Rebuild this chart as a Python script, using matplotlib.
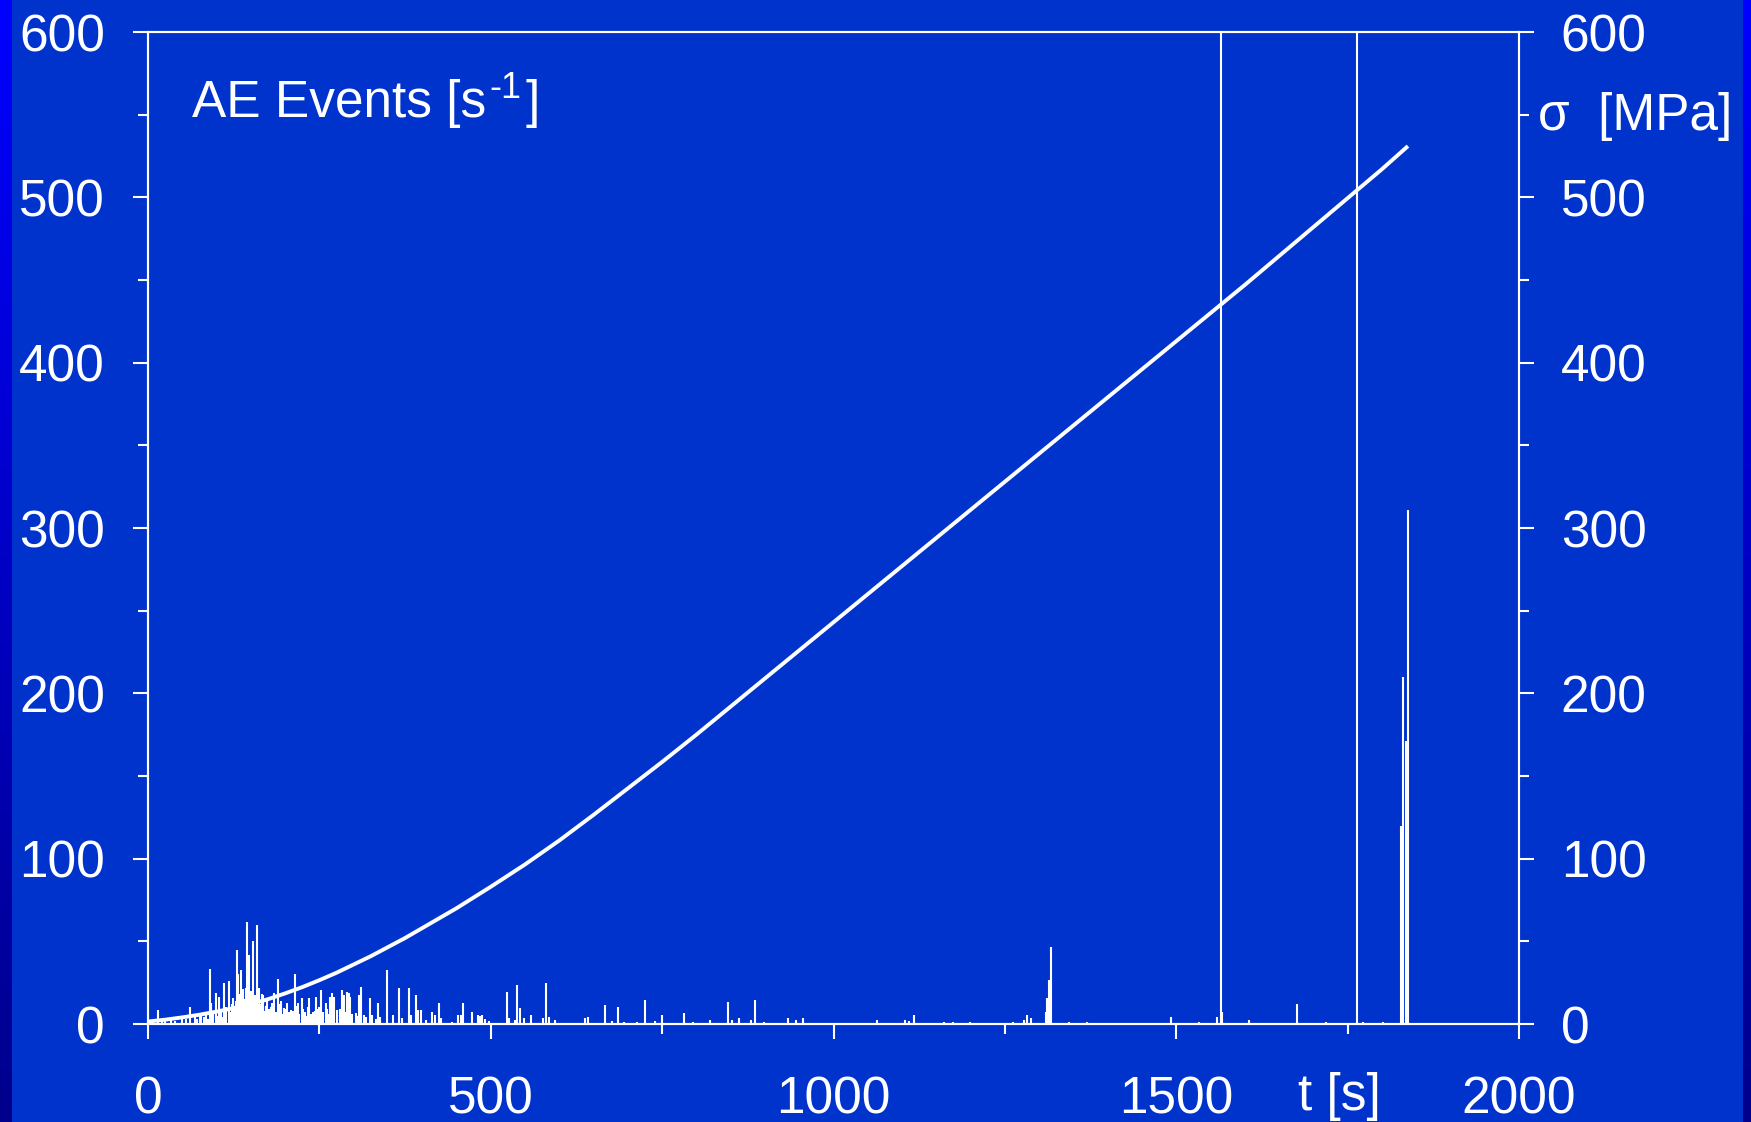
import matplotlib
matplotlib.use('Agg')

import numpy as np
import matplotlib.pyplot as plt
from matplotlib.ticker import MultipleLocator
from matplotlib.colors import LinearSegmentedColormap

plt.rcParams['font.family'] = ['Liberation Sans', 'DejaVu Sans']

BG = '#0033CC'
FG = 'white'

# stress curve sigma(t)
stress_t = [0, 25, 50, 75, 100, 125, 150, 175, 200, 225, 250, 275, 300, 325,
            350, 375, 400, 425, 450, 475, 500, 550, 600, 650, 700, 750, 800,
            850, 900, 950, 1000, 1100, 1200, 1300, 1400, 1500, 1600, 1700,
            1800, 1838]
stress_mpa = [1.5, 2.6, 4, 5.6, 7.5, 9.6, 12, 15, 18.5, 22.3, 26.5, 31, 36, 41,
              46.5, 52, 58, 64, 70, 76.5, 83, 96.5, 111, 126.5, 142.5, 158.5, 175,
              192, 209, 226, 243, 277, 311, 345, 379, 413, 447, 482,
              517, 531]

# AE event rate, single spikes
ae_t = [5, 15, 20, 25, 33, 40, 49, 55, 61, 68, 72, 76, 78, 85, 90, 92, 99, 103,
        111, 118, 124, 130, 132, 135, 139, 144, 148, 153, 156, 159, 162, 168,
        174, 181, 184, 189, 194, 199, 203, 208, 214, 219, 225, 229, 235, 240,
        245, 249, 253, 259, 265, 268, 272, 276, 283, 286, 290, 293, 295, 303,
        308, 311, 315, 324, 327, 335, 339, 349, 357, 366, 370, 381, 384, 391,
        394, 398, 406, 415, 418, 425, 428, 444, 452, 456, 460, 472, 481, 484,
        487, 491, 498, 523, 527, 535, 539, 542, 548, 558, 576, 580, 585, 593,
        638, 642, 666, 677, 685, 695, 714, 725, 740, 750, 782, 795, 820, 846,
        852, 862, 880, 885, 899, 934, 945, 955, 1064, 1104, 1110, 1117, 1161,
        1175, 1199, 1262, 1278, 1283, 1288, 1310, 1312, 1315, 1317, 1344, 1370,
        1493, 1533, 1560, 1565.5, 1567, 1606, 1676, 1718, 1764, 1773, 1801,
        1828, 1831.5, 1834.5, 1837.5]
ae_rate = [2, 8.5, 1.5, 2, 3, 2, 5, 3, 10.5, 4, 3, 5, 6.5, 7.5, 33, 12.5, 19, 16.5,
           25, 26, 15.5, 45, 30.5, 32.5, 21, 61.5, 42, 50, 17.5, 60, 21.5, 17.5,
           15.5, 13, 19, 27.5, 14, 9.5, 13, 8.5, 30, 12.5, 15.5, 7.5, 15.5, 7.5,
           16.5, 10.5, 20.5, 12.5, 16.5, 19, 16.5, 8.5, 20.5, 17.5, 19.5, 18.5, 16.5, 6.5,
           17.5, 22.5, 5.5, 15.5, 5.5, 12.5, 4.5, 32.5, 5.5, 21.5, 3.5, 21.5, 5.5, 17.5,
           8.5, 8.5, 2.5, 7.5, 5.5, 12.5, 3.5, 1.5, 5.5, 5.5, 12.5, 7.5, 5.5, 5,
           5.5, 3, 2, 19.5, 3.5, 2.5, 23.5, 9.5, 3.5, 5.5, 3.5, 24.5, 4.5, 2.5,
           3.5, 4.5, 11.5, 2, 10.5, 1.5, 1.5, 14.5, 2, 5.5, 6.5, 1.5, 2.5, 13.5,
           2.5, 3.5, 2.5, 14.5, 1.5, 3.5, 2.5, 3.5, 2.5, 2.5, 2, 5.5, 1.5,
           1.5, 1.5, 1.5, 2.5, 5.5, 3.5, 7.5, 15.5, 26.5, 46.5, 1.5, 1.5,
           4.5, 1.5, 4.5, 900, 7.5, 2.5, 12, 1.5, 900, 1.5, 1.5,
           120, 210, 171, 311]

# dense low-level activity in the early loading phase
fill_t = [82, 87, 95, 101, 106, 109, 114, 120, 122, 127, 129, 134, 137, 141,
          143, 146, 150, 154, 157, 161, 164, 166, 170, 172, 177, 179, 186, 191,
          196, 201, 206, 211, 216, 221, 226, 231, 233, 238, 243, 247, 251, 256,
          261, 263, 270, 280, 288, 298, 305, 318, 332]
fill_rate = [4, 3, 6, 5, 8, 4, 10, 7, 12, 9, 14, 18, 11, 15, 22, 12, 20, 16, 9,
             14, 12, 18, 8, 11, 9, 10, 7, 12, 6, 9, 7, 8, 11, 6, 9, 5, 10, 6, 8,
             9, 5, 7, 9, 6, 11, 9, 7, 6, 5, 4, 3]

W, H = 1751, 1122
FS = 37
fig = plt.figure(figsize=(W / 100, H / 100), dpi=100, facecolor=BG)

# slide edge strips (blue gradient)
grad = np.linspace(1, 0, 256).reshape(-1, 1)
edge_cmap = LinearSegmentedColormap.from_list('edge', ['#00008C', '#0000FF'])
for x0, w in [(0, 11), (1743, 8)]:
    ex = fig.add_axes([x0 / W, 0, w / W, 1])
    ex.imshow(grad, aspect='auto', cmap=edge_cmap)
    ex.axis('off')

ax = fig.add_axes([148 / W, 98 / H, 1371 / W, 992 / H])
ax.set_facecolor(BG)
ax.set_xlim(0, 2000)
ax.set_ylim(0, 600)

ax.vlines(fill_t, 0, fill_rate, color=FG, lw=1.5)
ax.vlines(ae_t, 0, ae_rate, color=FG, lw=1.5)

ax2 = ax.twinx()
ax2.set_ylim(0, 600)
ax2.plot(stress_t, stress_mpa, color=FG, lw=2.8, solid_capstyle='butt')

for a in (ax, ax2):
    for s in a.spines.values():
        s.set_color(FG)
        s.set_linewidth(1.5)
    a.tick_params(which='both', colors=FG, labelsize=FS, width=1.5, direction='out')
    a.tick_params(which='major', length=11)
    a.tick_params(which='minor', length=7)
    a.yaxis.set_major_locator(MultipleLocator(100))
    a.yaxis.set_minor_locator(MultipleLocator(50))

ax.xaxis.set_major_locator(MultipleLocator(500))
ax.xaxis.set_minor_locator(MultipleLocator(250))
ax.tick_params(axis='y', pad=20)
ax.tick_params(axis='x', pad=26)
ax2.tick_params(axis='y', pad=19)

# "AE Events [s^-1]" with a plain hyphen in the superscript
renderer = fig.canvas.get_renderer()
t1 = fig.text(192 / W, 1 - 117 / H, 'AE Events [s', color=FG, fontsize=FS,
              va='baseline', ha='left')
bb = t1.get_window_extent(renderer)
t2 = fig.text((bb.x1 + 3) / W, 1 - 98 / H, '-1', color=FG, fontsize=FS * 0.7,
              va='baseline', ha='left')
bb2 = t2.get_window_extent(renderer)
fig.text((bb2.x1 + 4) / W, 1 - 117 / H, ']', color=FG, fontsize=FS,
         va='baseline', ha='left')

fig.text(1538 / W, 1 - 130 / H, '\u03c3  [MPa]', color=FG, fontsize=FS,
         va='baseline', ha='left')
fig.text(1298 / W, 1 - 1110 / H, 't [s]', color=FG, fontsize=FS,
         va='baseline', ha='left')

fig.savefig('out.png', dpi=100, facecolor=BG)
